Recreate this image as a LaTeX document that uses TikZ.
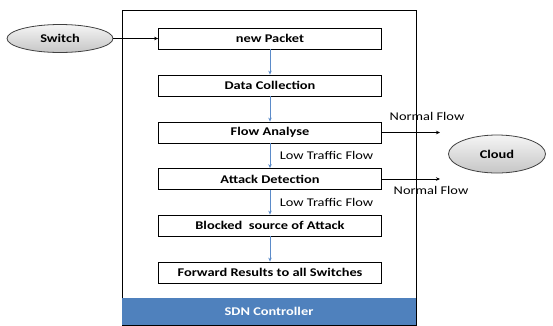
\documentclass[tikz,border=0pt]{standalone}
\usepackage{fontspec}
\setmainfont{Carlito}[FakeStretch=1.22]
\usetikzlibrary{arrows.meta,shapes.geometric}
\definecolor{flowblue}{RGB}{91,139,201}
\definecolor{barblue}{RGB}{79,129,189}

\begin{document}
\begin{tikzpicture}[x=1pt,y=-1pt,
  stepbox/.style={draw,line width=0.8pt,minimum width=223pt,minimum height=21pt,inner sep=0pt,font=\fontsize{11.8}{12}\selectfont\bfseries},
  device/.style={ellipse,draw=black!75,line width=0.8pt,top color=gray!8,bottom color=gray!45,inner sep=0pt,font=\fontsize{11.8}{12}\selectfont\bfseries},
  flow/.style={draw=flowblue,line width=0.8pt,-{Stealth[length=4pt,width=3.5pt]}},
  normalarrow/.style={draw=black,line width=0.8pt,-{Stealth[length=4pt,width=3.5pt]}},
  flowtext/.style={font=\fontsize{11.8}{12}\selectfont}]

\useasboundingbox (0,0) rectangle (553,325);

% controller frame
\draw[line width=0.8pt] (122,10) rectangle (416,325);
\node[fill=barblue,minimum width=294pt,minimum height=27pt,inner sep=0pt,text=white,font=\fontsize{11.8}{12}\selectfont\bfseries](ctrl) at (269,311.5) {SDN Controller};

\node[stepbox](p1) at (270,38.5) {new Packet};
\node[stepbox](p2) at (270,85.5) {Data Collection};
\node[stepbox](p3) at (270,132.5) {Flow Analyse};
\node[stepbox](p4) at (270,179) {Attack Detection};
\node[stepbox](p5) at (270,225.5) {Blocked\ \ source of Attack};
\node[stepbox](p6) at (270,272.5) {Forward Results to all Switches};

\node[device,minimum width=106pt,minimum height=28pt](sw) at (60,38.5) {Switch};
\node[device,minimum width=97pt,minimum height=38pt](cloud) at (497,154) {Cloud};

\foreach \from/\to in {p1/p2, p2/p3, p3/p4, p4/p5, p5/p6}
    \draw[flow] (\from) -- (\to);

\node[flowtext](low1) at (326.5,155) {Low Traffic Flow};
\node[flowtext](low2) at (326.5,202) {Low Traffic Flow};

\draw[normalarrow] (sw.east) -- (p1.west);

\coordinate (n1) at (440,132.5);
\coordinate (n2) at (440,179);
\draw[normalarrow] (p3.east) -- (n1);
\draw[normalarrow] (p4.east) -- (n2);
\node[flowtext](norm1) at (427,116) {Normal Flow};
\node[flowtext](norm2) at (431,190) {Normal Flow};

\end{tikzpicture}
\end{document}
